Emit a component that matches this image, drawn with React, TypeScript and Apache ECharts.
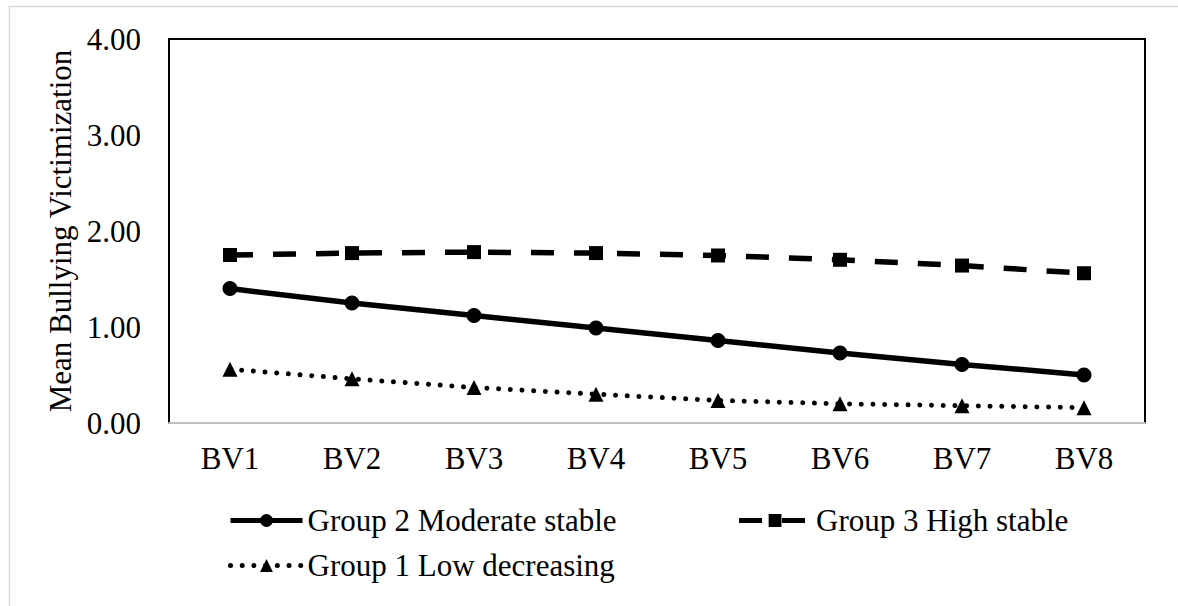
import React, { useEffect, useRef } from "react";
import * as echarts from "echarts";

const categories = ["BV1", "BV2", "BV3", "BV4", "BV5", "BV6", "BV7", "BV8"];
const group2Moderate = [1.4, 1.25, 1.12, 0.99, 0.86, 0.73, 0.61, 0.5];
const group3High = [1.75, 1.77, 1.78, 1.77, 1.745, 1.7, 1.64, 1.56];
const group1Low = [0.56, 0.46, 0.37, 0.3, 0.235, 0.2, 0.18, 0.16];
const yTicks = [0, 1, 2, 3, 4];

const FONT = "Liberation Serif";
const FS = 31;

export default function App() {
  const ref = useRef<HTMLDivElement>(null);
  useEffect(() => {
    document.body.style.margin = "0";
    const chart = echarts.init(ref.current!, null, { renderer: "svg" });
    chart.setOption({
      animation: false,
      backgroundColor: "#fff",
      textStyle: { fontFamily: FONT, color: "#000" },
      graphic: [
        {
          type: "rect",
          shape: { x: 9.5, y: 6.5, width: 1300, height: 800 },
          style: { fill: "none", stroke: "#d9d9d9", lineWidth: 1.5 },
          silent: true,
        },
      ],
      grid: {
        left: 169,
        right: 33,
        top: 39,
        bottom: 183,
        show: true,
        borderColor: "#000",
        borderWidth: 2,
      },
      legend: [
        {
          data: ["Group 2 Moderate stable", "Group 3 High stable"],
          left: 228,
          top: 505,
          padding: 0,
          itemWidth: 72,
          itemHeight: 16,
          itemGap: 120,
          lineStyle: { width: 5 },
          textStyle: { fontFamily: FONT, fontSize: FS, color: "#000" },
        },
        {
          data: ["Group 1 Low decreasing"],
          left: 228,
          top: 550,
          padding: 0,
          itemWidth: 72,
          itemHeight: 16,
          lineStyle: { width: 5 },
          textStyle: { fontFamily: FONT, fontSize: FS, color: "#000" },
        },
      ],
      xAxis: {
        type: "category",
        data: categories,
        boundaryGap: true,
        axisLine: { show: true, lineStyle: { color: "#c0c0c0", width: 2 } },
        axisTick: { show: false },
        axisLabel: { fontFamily: FONT, fontSize: FS, color: "#000", margin: 20 },
        splitLine: { show: false },
      },
      yAxis: {
        type: "value",
        min: yTicks[0],
        max: yTicks[yTicks.length - 1],
        interval: 1,
        name: "Mean Bullying Victimization",
        nameLocation: "middle",
        nameGap: 90,
        nameTextStyle: { fontFamily: FONT, fontSize: FS, color: "#000" },
        axisLine: { show: false },
        axisTick: { show: false },
        splitLine: { show: false },
        axisLabel: {
          fontFamily: FONT,
          fontSize: FS,
          color: "#000",
          margin: 28,
          formatter: (v: number) => v.toFixed(2),
        },
      },
      series: [
        {
          name: "Group 2 Moderate stable",
          type: "line",
          data: group2Moderate,
          symbol: "circle",
          symbolSize: 15,
          itemStyle: { color: "#000" },
          lineStyle: { color: "#000", width: 5.5, type: "solid" },
        },
        {
          name: "Group 3 High stable",
          type: "line",
          data: group3High,
          symbol: "rect",
          symbolSize: 14,
          itemStyle: { color: "#000" },
          lineStyle: { color: "#000", width: 5.5, type: [23, 20], cap: "butt" },
        },
        {
          name: "Group 1 Low decreasing",
          type: "line",
          data: group1Low,
          symbol: "triangle",
          symbolSize: 15,
          itemStyle: { color: "#000" },
          lineStyle: { color: "#000", width: 5, type: [0.01, 11.7], cap: "round" },
        },
      ],
    });
    return () => chart.dispose();
  }, []);
  return (
    <div
      ref={ref}
      style={{ position: "absolute", left: 0, top: 0, width: 1178, height: 606 }}
    />
  );
}
